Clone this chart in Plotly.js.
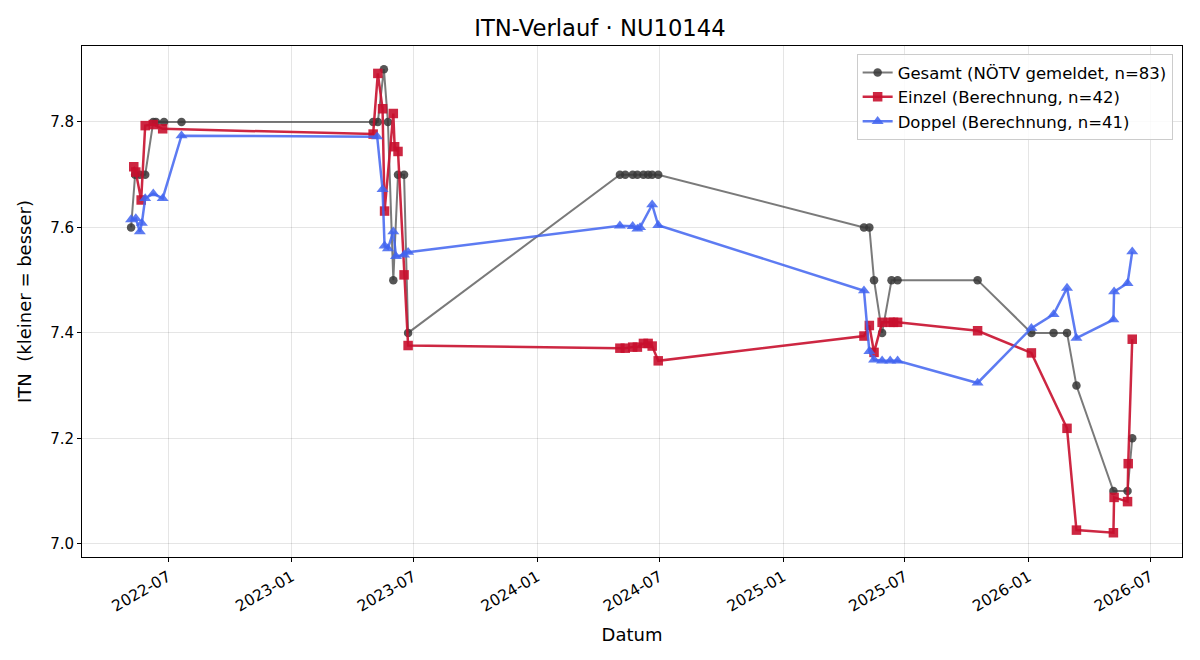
<!DOCTYPE html>
<html>
<head>
<meta charset="utf-8">
<script src="https://cdn.plot.ly/plotly-3.0.1.min.js"></script>
<style>html,body{margin:0;padding:0;background:#fff}#chart{width:1200px;height:660px}</style>
</head>
<body>
<div id="chart"></div>
<script>
const gesamtDates = ["2022-05-07","2022-05-13","2022-05-20","2022-05-28","2022-06-09","2022-06-13","2022-06-25","2022-07-21",
  "2023-05-02","2023-05-09","2023-05-18","2023-05-24","2023-06-01","2023-06-08","2023-06-17","2023-06-23",
  "2024-05-03","2024-05-11","2024-05-22","2024-05-29","2024-06-07","2024-06-14","2024-06-20","2024-06-29",
  "2025-05-01","2025-05-09","2025-05-16","2025-05-28","2025-06-11","2025-06-20","2025-10-17",
  "2026-01-05","2026-02-07","2026-02-27","2026-03-13","2026-05-07","2026-05-28","2026-06-04"];
const gesamtValues = [7.6,7.7,7.7,7.7,7.8,7.8,7.8,7.8,
  7.8,7.8,7.9,7.8,7.5,7.7,7.7,7.4,
  7.7,7.7,7.7,7.7,7.7,7.7,7.7,7.7,
  7.6,7.6,7.5,7.4,7.5,7.5,7.5,
  7.4,7.4,7.4,7.3,7.1,7.1,7.2];

const einzelDates = ["2022-05-11","2022-05-14","2022-05-22","2022-05-28","2022-06-09","2022-06-23",
  "2023-05-02","2023-05-09","2023-05-16","2023-05-19","2023-06-01","2023-06-03","2023-06-08","2023-06-17","2023-06-23",
  "2024-05-03","2024-05-11","2024-05-22","2024-05-29","2024-06-07","2024-06-14","2024-06-20","2024-06-29",
  "2025-05-01","2025-05-09","2025-05-16","2025-05-28","2025-06-09","2025-06-14","2025-06-20","2025-10-17",
  "2026-01-05","2026-02-27","2026-03-13","2026-05-07","2026-05-08","2026-05-28","2026-05-29","2026-06-04"];
const einzelValues = [7.715,7.705,7.652,7.793,7.795,7.787,
  7.777,7.892,7.825,7.631,7.816,7.753,7.744,7.510,7.376,
  7.371,7.371,7.373,7.373,7.380,7.380,7.375,7.347,
  7.394,7.414,7.363,7.420,7.420,7.420,7.420,7.404,
  7.362,7.219,7.026,7.021,7.088,7.080,7.152,7.388];

const doppelDates = ["2022-05-07","2022-05-14","2022-05-20","2022-05-23","2022-05-28","2022-06-09","2022-06-23","2022-07-21",
  "2023-05-08","2023-05-16","2023-05-19","2023-05-24","2023-06-01","2023-06-05","2023-06-17","2023-06-23",
  "2024-05-03","2024-05-22","2024-05-29","2024-06-02","2024-06-20","2024-06-29",
  "2025-05-01","2025-05-09","2025-05-16","2025-05-28","2025-06-09","2025-06-20","2025-10-17",
  "2026-01-05","2026-02-07","2026-02-27","2026-03-13","2026-05-07","2026-05-08","2026-05-28","2026-06-04"];
const doppelValues = [7.615,7.617,7.592,7.608,7.655,7.664,7.655,7.774,
  7.772,7.672,7.565,7.560,7.592,7.545,7.548,7.553,
  7.603,7.602,7.597,7.600,7.643,7.604,
  7.480,7.365,7.349,7.347,7.347,7.347,7.305,
  7.409,7.435,7.485,7.390,7.425,7.478,7.494,7.554];

const xTickVals = ["2022-07-01","2023-01-01","2023-07-01","2024-01-01","2024-07-01","2025-01-01","2025-07-01","2026-01-01","2026-07-01"];
const xTickText = ["2022-07","2023-01","2023-07","2024-01","2024-07","2025-01","2025-07","2026-01","2026-07"];
const yTickVals = [7.0,7.2,7.4,7.6,7.8];
const yTickText = ["7.0","7.2","7.4","7.6","7.8"];

const traces = [
  {x: gesamtDates, y: gesamtValues, mode: "lines+markers", name: "Gesamt (NÖTV gemeldet, n=83)", legendgroup: "g",
   line: {color: "rgba(70,70,70,0.72)", width: 2},
   marker: {symbol: "circle", size: 8.5, color: "rgba(55,55,55,0.85)"}},
  {x: einzelDates, y: einzelValues, mode: "lines+markers", name: "Einzel (Berechnung, n=42)", legendgroup: "e",
   line: {color: "rgba(200,16,46,0.9)", width: 2.5},
   marker: {symbol: "square", size: 9.5, color: "rgba(200,16,46,0.9)"}},
  {x: doppelDates, y: doppelValues, mode: "lines+markers", name: "Doppel (Berechnung, n=41)", legendgroup: "d",
   line: {color: "rgba(65,100,240,0.85)", width: 2.5},
   marker: {symbol: "triangle-up", size: 10.5, color: "rgba(65,100,240,0.85)"}}
];

const layout = {
  width: 1200, height: 660,
  font: {family: "DejaVu Sans, sans-serif", size: 15, color: "#000"},
  paper_bgcolor: "#fff", plot_bgcolor: "#fff",
  margin: {l: 82, r: 18, t: 46, b: 103},
  title: {text: "ITN-Verlauf · NU10144", font: {size: 22.7}, x: 0.5, xanchor: "center", y: 0.958, yanchor: "middle"},
  xaxis: {
    type: "date", range: ["2022-02-23", "2026-08-17"],
    tickvals: xTickVals, ticktext: xTickText, tickangle: -30,
    ticks: "outside", ticklen: 4, tickcolor: "#000",
    showline: true, linecolor: "#000", linewidth: 1, mirror: true,
    showgrid: true, gridcolor: "rgba(0,0,0,0.1)", zeroline: false,
    tickfont: {size: 15.5},
    title: {text: "Datum", font: {size: 18}, standoff: 13}
  },
  yaxis: {
    range: [6.975, 7.944],
    tickvals: yTickVals, ticktext: yTickText,
    ticks: "outside", ticklen: 4, tickcolor: "#000",
    showline: true, linecolor: "#000", linewidth: 1, mirror: true,
    showgrid: true, gridcolor: "rgba(0,0,0,0.1)", zeroline: false,
    tickfont: {size: 15},
    title: {text: "ITN  (kleiner = besser)", font: {size: 18}, standoff: 13}
  },
  legend: {
    x: 0.9915, y: 0.984, xanchor: "right", yanchor: "top",
    bgcolor: "rgba(255,255,255,0.85)", bordercolor: "#cccccc", borderwidth: 1,
    font: {size: 16.5}, tracegroupgap: 4, traceorder: "normal"
  },
  showlegend: true
};

Plotly.newPlot("chart", traces, layout, {staticPlot: true, displayModeBar: false});
</script>
</body>
</html>
